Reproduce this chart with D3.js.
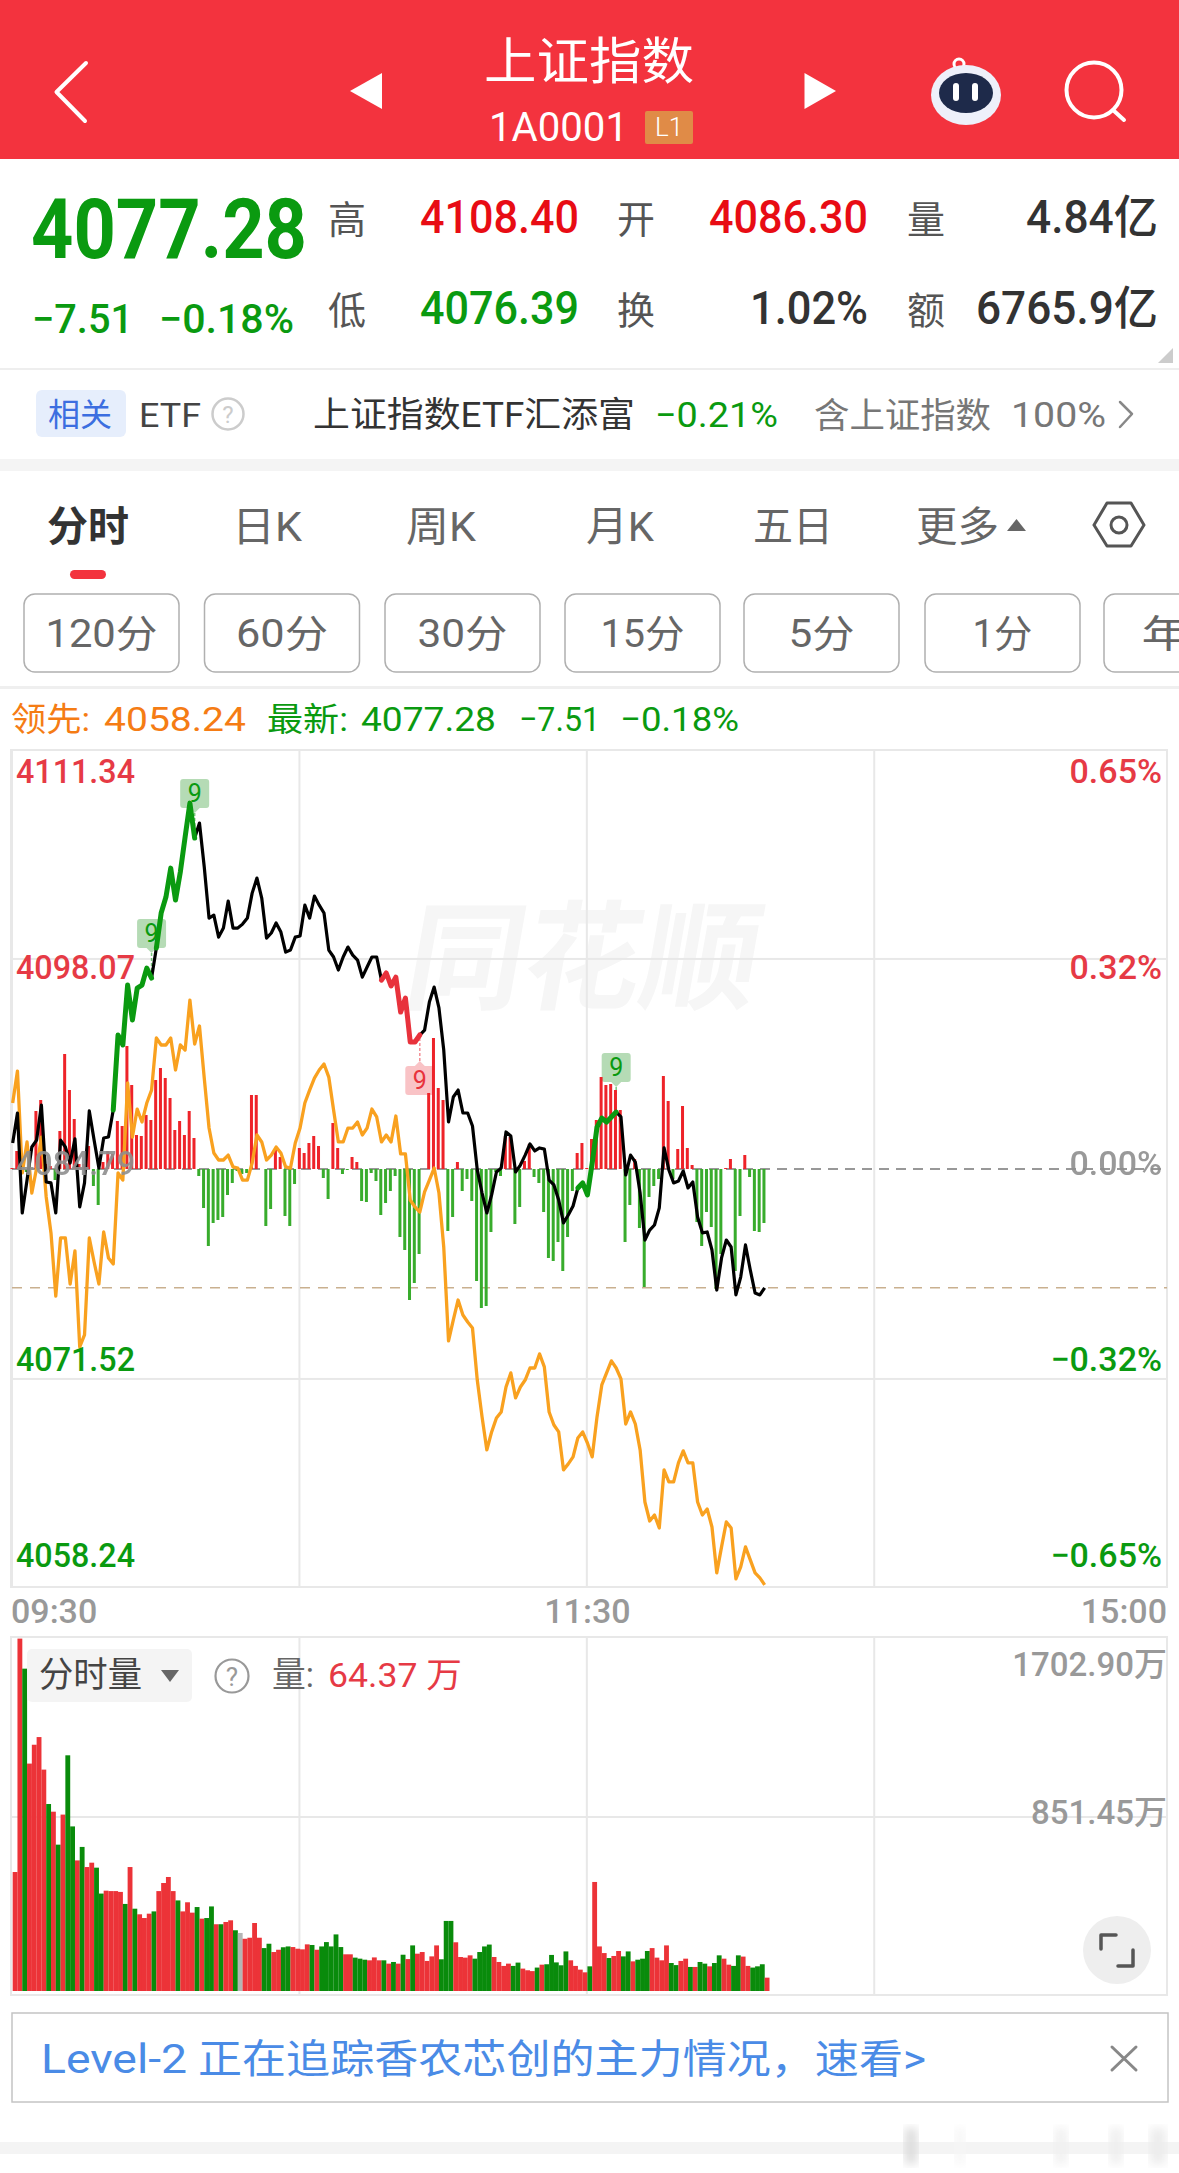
<!DOCTYPE html>
<html><head><meta charset="utf-8">
<script src="https://cdn.jsdelivr.net/npm/d3@7"></script>
<style>html,body{margin:0;padding:0;background:#fff}svg{display:block}text{font-family:Roboto,"Noto Sans CJK SC",sans-serif}</style>
</head><body><svg id="c" width="1179" height="2173" viewBox="0 0 1179 2173"></svg>
<script>
// ---- data (one entry per minute since 09:30) ----
const priceSeries=[4086.43,4088.33,4082.01,4084.09,4086.18,4086.62,4088.83,4083.97,4083.91,4082.01,4086.62,4086.18,4085.17,4086.69,4082.39,4083.91,4088.46,4086.62,4084.85,4086.75,4086.81,4088.52,4093.26,4092.63,4096.42,4094.21,4096.23,4096.42,4097.49,4096.86,4098.76,4100.97,4101.98,4103.81,4101.79,4103.56,4105.77,4107.92,4105.71,4106.66,4103.88,4100.65,4100.84,4099.45,4100.02,4101.73,4100.02,4100.02,4100.27,4100.65,4102.23,4103.18,4101.92,4099.39,4099.71,4100.34,4099.77,4098.50,4098.63,4099.45,4099.52,4101.47,4100.65,4102.04,4101.47,4100.97,4098.63,4098.19,4097.37,4098.19,4098.82,4098.31,4098.00,4096.92,4097.56,4098.19,4098.19,4096.73,4097.18,4096.36,4096.92,4094.71,4095.60,4092.82,4092.82,4093.26,4093.57,4095.34,4096.29,4094.97,4092.31,4087.76,4089.34,4089.78,4088.33,4088.33,4087.51,4084.73,4083.27,4082.01,4083.15,4084.60,4084.85,4087.13,4086.88,4084.60,4085.04,4085.67,4086.37,4085.93,4086.12,4086.05,4084.09,4083.78,4082.83,4081.38,4081.88,4082.45,4083.59,4083.91,4083.15,4085.17,4087.44,4088.01,4087.76,4088.08,4088.39,4088.08,4084.41,4085.67,4085.23,4083.27,4080.30,4080.93,4081.25,4082.33,4086.12,4084.73,4083.91,4084.03,4084.66,4083.59,4083.97,4081.76,4080.75,4080.81,4079.67,4077.14,4079.17,4080.30,4079.86,4076.83,4077.96,4079.99,4078.41,4076.95,4076.83,4077.28];
const leadSeries=[4088.96,4090.98,4084.54,4086.50,4083.27,4084.85,4086.81,4083.02,4080.75,4076.76,4080.43,4080.43,4077.52,4079.61,4073.54,4074.30,4080.43,4078.91,4077.52,4080.81,4079.17,4078.79,4084.54,4084.09,4090.23,4086.81,4088.58,4087.76,4088.96,4089.78,4093.07,4092.63,4092.63,4093.07,4091.05,4092.63,4092.31,4095.47,4092.69,4093.83,4090.54,4087.38,4085.80,4085.36,4085.36,4085.67,4084.92,4084.85,4084.09,4084.09,4085.17,4086.94,4086.50,4085.36,4085.67,4086.18,4085.80,4084.92,4084.85,4086.43,4087.38,4088.96,4089.78,4090.54,4091.05,4091.43,4090.60,4088.52,4086.50,4086.50,4087.38,4087.38,4087.76,4086.94,4087.38,4088.58,4088.08,4086.50,4086.94,4086.50,4088.14,4085.74,4085.74,4082.83,4082.39,4082.07,4083.34,4084.09,4084.85,4083.27,4079.86,4073.92,4075.25,4076.51,4075.56,4075.12,4074.74,4071.45,4069.12,4067.03,4068.17,4069.05,4069.43,4071.01,4071.90,4070.32,4071.01,4071.45,4072.21,4072.21,4073.10,4072.28,4069.43,4068.61,4068.17,4065.77,4066.15,4066.59,4067.79,4068.17,4067.47,4066.59,4069.12,4071.14,4071.90,4072.66,4072.21,4071.52,4068.67,4069.43,4068.67,4067.03,4063.74,4062.54,4062.92,4062.10,4065.77,4065.01,4065.01,4066.21,4066.97,4066.21,4066.21,4063.74,4062.92,4063.30,4062.16,4059.26,4060.90,4062.48,4062.10,4058.88,4059.64,4060.90,4060.08,4059.26,4058.94,4058.50];
const flowSeries=[1,18,5,-3,0,58,69,5,3,-11,38,115,79,50,5,5,23,-17,-36,7,18,15,48,43,123,84,34,33,54,49,89,101,91,71,39,48,34,58,31,-7,-39,-77,-54,-51,-48,-26,-14,-2,-5,-4,74,74,0,-57,-40,19,12,-47,-57,-15,21,16,26,33,23,-9,-30,46,21,-5,-1,12,7,-32,-33,-4,-12,-46,-34,-22,-7,-68,-81,-131,-114,-85,0,76,131,81,69,-62,-48,7,-22,-10,-32,-112,-139,-137,-63,-3,-7,33,32,-55,-38,8,25,-8,-14,-43,-89,-92,-73,-102,-68,-22,16,26,1,30,49,92,84,85,79,59,-73,-36,10,-59,-118,-28,-17,-10,93,68,-10,20,63,21,4,-53,-77,-43,-58,-120,-85,1,10,-102,-47,14,-8,-62,-63,-54];
const volumeSeries=[574,1700,1555,1097,1188,1225,1068,902,865,706,851,1137,794,630,695,598,619,595,470,484,482,482,478,420,598,397,370,352,373,384,482,521,550,482,437,384,428,378,405,349,352,408,322,322,333,341,293,280,252,257,328,257,207,228,188,199,211,215,212,204,201,225,222,199,215,236,215,273,212,177,177,161,156,151,148,162,148,148,132,140,132,175,154,220,180,188,145,167,220,153,338,338,235,164,161,172,156,188,215,224,164,140,121,132,121,137,108,100,96,113,127,129,174,138,124,191,148,121,103,90,119,526,215,183,159,169,193,167,191,143,151,156,193,207,161,148,220,135,125,145,156,116,116,140,132,119,135,172,156,127,121,172,166,121,113,119,129,64.37];
const volumeDir=("rrgrrrrgrg"+"rggrgrrggr"+"rrrgrgrrrg"+"rrrrgrrrgr"+"ggrgrrgnrr"+"rrggrrggrr"+"rrgrgggggr"+"rgggrrrgrg"+"rgrgrrrrrg"+"ggrrrrgggg"+"rrrrggrrrg"+"rgggggrrrr"+"grrrgrrggr"+"gggrrrrggr"+"rgrggrggrr"+"ggrrgggr").split("");
const greenNine=[29,38,126];
const redNine=[85];
const greenRuns=[[21,29],[30,38],[118,126]];
const redRuns=[[77,85]];
const priceLabels=[["4111.34",4111.34,"#e63a45","0.65%"],["4098.07",4098.07,"#e63a45","0.32%"],["4084.79",4084.79,"#8f8f8f","0.00%"],["4071.52",4071.52,"#0a9a10","−0.32%"],["4058.24",4058.24,"#0a9a10","−0.65%"]];
const timeLabels=[["09:30",0,"start"],["11:30",120,"middle"],["15:00",240,"end"]];
const volLabels=["1702.90万","851.45万"];
const tabs=["分时","日K","周K","月K","五日","更多"];
const periods=["120分","60分","30分","15分","5分","1分","年K"];

// ---- setup ----
const RED="#f3333e",GREEN="#0a9a10",PRED="#e80c14";
const svg=d3.select("#c");
const x=d3.scaleLinear().domain([0,240]).range([12.67,1162.2]);
const y=d3.scaleLinear().domain([4058.24,4111.34]).range([1589,749]);
const flowY=d3.scaleLinear().domain([-100,100]).range([1269,1069]);
const volY=d3.scaleLinear().domain([0,1702.9]).range([1991,1638]);
function T(p,s,tx,ty,size,fill,o={}){
  const n=p.append("text").attr("x",tx).attr("y",ty).attr("font-size",size).attr("fill",fill).attr("font-weight",o.w||400).attr("text-anchor",o.a||"start").text(s);
  if(o.len){n.attr("textLength",o.len).attr("lengthAdjust","spacingAndGlyphs");}
  if(o.op)n.attr("opacity",o.op);
  return n;
}
const R=(p,a,b,w,h,f,r=0)=>p.append("rect").attr("x",a).attr("y",b).attr("width",w).attr("height",h).attr("fill",f).attr("rx",r);
const L=(p,pts,st,w,f="none")=>p.append("path").attr("d",d3.line()(pts)+(f!=="none"?"Z":"")).attr("fill",f).attr("stroke",st).attr("stroke-width",w).attr("stroke-linecap","round").attr("stroke-linejoin","round");

// ---- header ----
const head=svg.append("g");
R(head,0,0,1179,159,RED);
L(head,[[86,63],[56.5,92],[85,121]],"#fff",4);
L(head,[[382,73],[350,91],[382,109]],"none",0,"#fff");
L(head,[[804.5,73],[836,91],[804.5,109]],"none",0,"#fff");
T(head,"上证指数",484,79,50,"#fff",{w:400,len:210});
T(head,"1A0001",489,141,40,"#fff",{w:400,len:139});
R(head,645,111,48,33,"#e08b47",2);
T(head,"L1",669,136,26,"#fff",{a:"middle",w:300});
head.append("circle").attr("cx",959).attr("cy",64).attr("r",5).attr("fill","none").attr("stroke","#fff").attr("stroke-width",3);
head.append("ellipse").attr("cx",966).attr("cy",95).attr("rx",35).attr("ry",30).attr("fill","#eef0fa");
head.append("ellipse").attr("cx",966).attr("cy",93).attr("rx",27).attr("ry",20).attr("fill","#1e2a4a");
R(head,953,83,6,18,"#fff",3);R(head,972,83,6,18,"#fff",3);
head.append("circle").attr("cx",1094).attr("cy",90).attr("r",27.5).attr("fill","none").attr("stroke","#fff").attr("stroke-width",4);
L(head,[[1113,110],[1124,120]],"#fff",4);

// ---- quote ----
const q=svg.append("g");
T(q,"4077.28",31,258,84,GREEN,{w:700,len:276});
T(q,"−7.51",32,333,40,GREEN,{w:500,len:101});
T(q,"−0.18%",159,333,40,GREEN,{w:500,len:135});
const GR="#555";
T(q,"高",328,233,38,GR);T(q,"开",617,233,38,GR);T(q,"量",907,233,38,GR);
T(q,"低",328,324,38,GR);T(q,"换",617,324,38,GR);T(q,"额",907,324,38,GR);
T(q,"4108.40",420,233,46,PRED,{w:500,len:159});
T(q,"4086.30",709,233,46,PRED,{w:500,len:159});
T(q,"4.84亿",1158,233,46,"#333",{w:500,a:"end",len:132});
T(q,"4076.39",420,324,46,GREEN,{w:500,len:159});
T(q,"1.02%",868,324,46,"#333",{w:500,a:"end",len:118});
T(q,"6765.9亿",1158,324,46,"#333",{w:500,a:"end",len:182});
L(q,[[1173,348],[1173,363],[1158,363]],"none",0,"#ccc");
R(q,0,368,1179,2,"#eeeeee");
// ETF row
R(q,36,390,90,47,"#e6eefc",6);
T(q,"相关",48,426,32,"#3c6ee0",{len:64});
T(q,"ETF",139,427,33,"#444",{len:62});
q.append("circle").attr("cx",228).attr("cy",414).attr("r",15.5).attr("fill","none").attr("stroke","#ccc").attr("stroke-width",2.5);
T(q,"?",228,423,24,"#ccc",{a:"middle"});
T(q,"上证指数ETF汇添富",313,427,35,"#333",{len:322});
T(q,"−0.21%",655,427,35,GREEN,{len:123});
T(q,"含上证指数",814,428,35,"#777",{len:177});
T(q,"100%",1011,427,35,"#777",{len:95});
L(q,[[1120,402],[1132,414],[1120,427]],"#888",2.5);
R(q,0,459,1179,12,"#f4f4f4");

// ---- tabs ----
const tb=svg.append("g");
const tabX=[[47,82],[232,70],[406,70],[586,68],[753,80],[916,83]];
tabs.forEach((s,i)=>T(tb,s,tabX[i][0],541,41,i?"#666":"#333",{w:i?400:700,len:tabX[i][1]}));
L(tb,[[1007,531],[1016.5,519],[1026,531]],"none",0,"#666");
L(tb,[[1094,525],[1107,503],[1131,503],[1144,525],[1131,546],[1107,546],[1094,525]],"#555",3);
tb.append("circle").attr("cx",1119).attr("cy",525).attr("r",8).attr("fill","none").attr("stroke","#555").attr("stroke-width",3);
R(tb,70,570,36,9,RED,4.5);
const btnX=[24,204.5,385,565,744,925,1104];
const btnLen=[112,92,90,84,66,60,80];
periods.forEach((s,i)=>{
  tb.append("rect").attr("x",btnX[i]).attr("y",594).attr("width",155).attr("height",78).attr("rx",11).attr("fill","#fff").attr("stroke","#b0b0b0").attr("stroke-width",1.5);
  T(tb,s,btnX[i]+77.5,647,38,"#666",{a:"middle",len:btnLen[i]});
});
R(tb,0,686,1179,3,"#efefef");
T(tb,"领先:",11,731,33,"#f57c14",{len:79});
T(tb,"4058.24",104,731,34,"#f57c14",{len:142});
T(tb,"最新:",267,731,33,GREEN,{len:81});
T(tb,"4077.28",361,731,34,GREEN,{len:135});
T(tb,"−7.51",519,731,34,GREEN,{len:81});
T(tb,"−0.18%",620,731,34,GREEN,{len:119});

// ---- price panel ----
const GRID="#e8e8e8";
const pm=svg.append("g");
const wm=T(pm,"同花顺",0,0,118,"#f6f6f6",{w:700,len:352});
wm.attr("transform","translate(401,1000) skewX(-10)");
[4098.07,4071.52].forEach(v=>R(pm,12,y(v)-1,1155,2,GRID));
[60,120,180].forEach(m=>R(pm,x(m)-1.6,750,2,837,GRID));
pm.append("rect").attr("x",11).attr("y",750).attr("width",1156).attr("height",837).attr("fill","none").attr("stroke",GRID).attr("stroke-width",2);
R(pm,10,750,3,837,GRID);
pm.append("line").attr("x1",12).attr("x2",1167).attr("y1",y(4084.79)).attr("y2",y(4084.79)).attr("stroke","#777").attr("stroke-width",1.5).attr("stroke-dasharray","10 7");
pm.append("line").attr("x1",12).attr("x2",1167).attr("y1",y(4077.28)).attr("y2",y(4077.28)).attr("stroke","#c9b08f").attr("stroke-width",1.5).attr("stroke-dasharray","10 8");

// nine tags sit under the bars and lines
function tag(i,col,bg,up){
  const cx=x(i),py=y(priceSeries[i]);
  const top=up?py+31:py-59,bot=top+29;
  pm.append("line").attr("x1",cx).attr("x2",cx).attr("y1",up?py+3:bot).attr("y2",up?top:py-3).attr("stroke",col).attr("stroke-opacity",.55).attr("stroke-width",1.5).attr("stroke-dasharray","3 2");
  R(pm,cx-14.5,top,29,29,bg,3);
  L(pm,up?[[cx-5,top],[cx,top-5],[cx+5,top]]:[[cx-5,bot],[cx,bot+5],[cx+5,bot]],"none",0,bg);
  T(pm,"9",cx,top+23,25,col,{a:"middle"});
}
greenNine.forEach(i=>tag(i,"#0a9a10","#b5dbb5",false));
redNine.forEach(i=>tag(i,"#e8323c","#f9c3c6",true));

pm.selectAll("rect.flow").data(flowSeries).join("rect").attr("class","flow")
  .attr("x",(d,i)=>x(i)-2.2).attr("width",3)
  .attr("y",d=>Math.min(flowY(d),flowY(0))).attr("height",d=>Math.abs(flowY(d)-flowY(0)))
  .attr("fill",d=>d>=0?"#ee2329":"#38ac2c");

const line=d3.line().x((d,i)=>x(i)).y(d=>y(d));
pm.append("path").attr("d",line(leadSeries)).attr("fill","none").attr("stroke","#f9a11f").attr("stroke-width",3.3).attr("stroke-linejoin","round");
pm.append("path").attr("d",line(priceSeries)).attr("fill","none").attr("stroke","#000").attr("stroke-width",3.2).attr("stroke-linejoin","round");
const runLine=d3.line().x(d=>x(d)).y(d=>y(priceSeries[d]));
const drawRun=(r,c)=>pm.append("path").attr("d",runLine(d3.range(r[0],r[1]+1))).attr("fill","none").attr("stroke",c).attr("stroke-width",5).attr("stroke-linejoin","round").attr("stroke-linecap","round");
greenRuns.forEach(r=>drawRun(r,"#0a9a10"));
redRuns.forEach(r=>drawRun(r,"#e8323c"));

const lblBase=[783,979,1175,1371,1567];
priceLabels.forEach((l,i)=>{
  T(pm,l[0],16,lblBase[i],34,l[2],{w:500,len:119,op:i===2?.9:1});
  T(pm,l[3],1162,lblBase[i],34,l[2],{w:500,a:"end",op:i===2?.9:1});
});
timeLabels.forEach(l=>{
  const px=l[2]==="start"?11:l[2]==="end"?1167:x(l[1]);
  T(pm,l[0],px,1623,34,"#999",{w:500,a:l[2]});
});

// ---- volume panel ----
const vm=svg.append("g");
R(vm,12,1816,1155,2,GRID);
[60,120,180].forEach(m=>R(vm,x(m)-1.6,1637,2,358,GRID));
vm.append("rect").attr("x",11).attr("y",1637).attr("width",1156).attr("height",358).attr("fill","none").attr("stroke",GRID).attr("stroke-width",2);
const volColor={r:"#ec3338",g:"#098b0b",n:"#b5b5b5"};
vm.selectAll("rect.vol").data(volumeSeries).join("rect").attr("class","vol")
  .attr("x",(d,i)=>x(i)).attr("width",4.85)
  .attr("y",d=>volY(d)).attr("height",d=>volY(0)-volY(d))
  .attr("fill",(d,i)=>volColor[volumeDir[i]]);
vm.append("rect").attr("x",27).attr("y",1649).attr("width",165).attr("height",53).attr("rx",5).attr("fill","#f2f2f2").attr("fill-opacity",.88);
T(vm,"分时量",39,1687,35,"#444",{len:103});
L(vm,[[161,1670],[179,1670],[170,1682]],"none",0,"#666");
vm.append("circle").attr("cx",232).attr("cy",1676).attr("r",16.5).attr("fill","#fff").attr("stroke","#999").attr("stroke-width",2.2);
T(vm,"?",232,1686,26,"#999",{a:"middle"});
T(vm,"量:",272,1687,35,"#666",{len:42});
T(vm,"64.37 万",328,1687,34,"#e63a45",{len:134});
T(vm,volLabels[0],1167,1676,33,"#999",{w:500,a:"end"});
T(vm,volLabels[1],1167,1824,33,"#999",{w:500,a:"end"});
vm.append("circle").attr("cx",1117).attr("cy",1950).attr("r",34).attr("fill","#eeeeee");
L(vm,[[1101,1949],[1101,1935],[1116,1935]],"#555",3.5);
L(vm,[[1133,1950],[1133,1966],[1118,1966]],"#555",3.5);

// ---- banner ----
const bn=svg.append("g");
bn.append("rect").attr("x",12).attr("y",2013).attr("width",1156).attr("height",89).attr("fill","#fff").attr("stroke","#c4c4c4").attr("stroke-width",1.5);
T(bn,"Level-2",41,2073,40,"#4a8be6",{len:146});
T(bn,"正在追踪香农芯创的主力情况，速看>",198,2073,40,"#4a8be6",{len:728});
L(bn,[[1112,2047],[1136,2070]],"#888",3);
L(bn,[[1136,2047],[1112,2070]],"#888",3);
R(bn,0,2142,1179,12,"#f4f4f4");
const defs=svg.append("defs");
defs.append("filter").attr("id","blur").append("feGaussianBlur").attr("stdDeviation",5);
[[905,12,"#dcdcdc"],[955,10,"#f6f6f6"],[1055,12,"#f0f0f0"],[1110,12,"#eeeeee"],[1150,16,"#ececec"]].forEach(s=>{
  R(bn,s[0],2128,s[1],36,s[2]).attr("filter","url(#blur)");
});
</script></body></html>
